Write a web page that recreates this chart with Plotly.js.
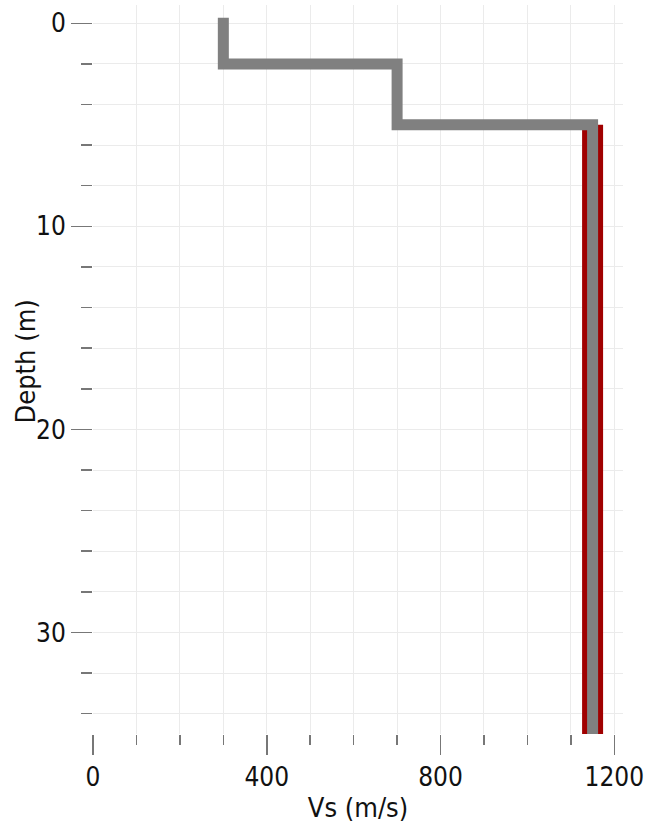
<!DOCTYPE html>
<html>
<head>
<meta charset="utf-8">
<script src="https://cdn.plot.ly/plotly-3.0.1.min.js"></script>
<style>
  html, body { margin: 0; padding: 0; background: #fff; }
  #chart { width: 647px; height: 826px; }
  .scatterlayer .trace:nth-child(1) .js-line { stroke-linecap: butt; }
  .scatterlayer .trace:nth-child(2) .js-line { stroke-linecap: square; }
</style>
</head>
<body>
<div id="chart"></div>
<script>
// Profile (grey) : stepped Vs profile
const profileDepth = [0, 2, 2, 5, 5, 36];
const profileVs    = [300, 300, 700, 700, 1150, 1150];

// Half-space / reference (red)
const refDepth = [5, 36];
const refVs    = [1150, 1150];

const xTickVals = [0, 400, 800, 1200];
const xTickText = ['0', '400', '800', '1200'];
const yTickVals = [0, 10, 20, 30];
const yTickText = ['0', '10', '20', '30'];

const traces = [
  {
    x: refVs, y: refDepth, type: 'scatter', mode: 'lines',
    line: {color: '#a00000', width: 21}, hoverinfo: 'skip', showlegend: false
  },
  {
    x: profileVs, y: profileDepth, type: 'scatter', mode: 'lines',
    line: {color: '#808080', width: 11}, hoverinfo: 'skip', showlegend: false
  }
];

const fam = '"DejaVu Sans Condensed", "DejaVu Sans", sans-serif';
const tickFont = {family: fam, size: 26, color: '#111'};

const layout = {
  width: 647, height: 826,
  margin: {l: 93, r: 24, t: 5, b: 92},
  paper_bgcolor: '#ffffff', plot_bgcolor: '#ffffff',
  showlegend: false,
  xaxis: {
    range: [0, 1220],
    tickvals: xTickVals, ticktext: xTickText,
    ticks: 'outside', ticklen: 20, tickwidth: 1.5, tickcolor: '#777',
    showgrid: true, gridcolor: '#ebebeb', gridwidth: 1,
    zeroline: false, showline: false,
    tickfont: tickFont,
    minor: {dtick: 100, tick0: 0, ticks: 'outside', ticklen: 10, tickwidth: 1.5, tickcolor: '#777', showgrid: true, gridcolor: '#ebebeb', gridwidth: 1},
    title: {text: 'Vs (m/s)', font: {family: fam, size: 27, color: '#111'}, standoff: 6}
  },
  yaxis: {
    range: [35, -0.9],
    tickvals: yTickVals, ticktext: yTickText,
    ticks: 'outside', ticklen: 21, tickwidth: 1.5, tickcolor: '#777',
    showgrid: true, gridcolor: '#ebebeb', gridwidth: 1,
    zeroline: false, showline: false,
    tickfont: tickFont,
    minor: {dtick: 2, tick0: 0, ticks: 'outside', ticklen: 11, tickwidth: 1.5, tickcolor: '#777', showgrid: true, gridcolor: '#ebebeb', gridwidth: 1}
  },
  annotations: [{
    text: 'Depth (m)', textangle: -90,
    xref: 'paper', yref: 'paper', x: 0, y: 0.5,
    xanchor: 'center', yanchor: 'middle',
    xshift: -68, yshift: 8, showarrow: false,
    font: {family: fam, size: 27, color: '#111'}
  }]
};

Plotly.newPlot('chart', traces, layout, {displayModeBar: false, staticPlot: true});
</script>
</body>
</html>
